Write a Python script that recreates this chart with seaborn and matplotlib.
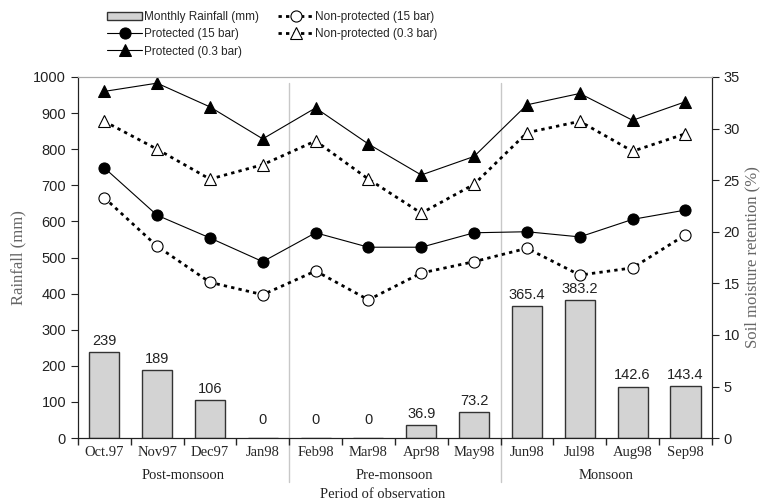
import numpy as np
import matplotlib
matplotlib.use("Agg")
import matplotlib.pyplot as plt
import matplotlib.transforms as mtransforms
import seaborn as sns

# data
months = ['Oct.97', 'Nov97', 'Dec97', 'Jan98', 'Feb98', 'Mar98',
          'Apr98', 'May98', 'Jun98', 'Jul98', 'Aug98', 'Sep98']
rainfall = [239, 189, 106, 0, 0, 0, 36.9, 73.2, 365.4, 383.2, 142.6, 143.4]
rain_labels = ['239', '189', '106', '0', '0', '0', '36.9', '73.2',
               '365.4', '383.2', '142.6', '143.4']
prot_15 = [26.2, 21.6, 19.4, 17.1, 19.9, 18.5, 18.5, 19.9, 20.0, 19.5, 21.2, 22.1]
prot_03 = [33.6, 34.4, 32.1, 29.0, 32.0, 28.5, 25.5, 27.3, 32.3, 33.4, 30.8, 32.6]
nonprot_15 = [23.3, 18.6, 15.1, 13.9, 16.2, 13.4, 16.0, 17.1, 18.4, 15.8, 16.5, 19.7]
nonprot_03 = [30.7, 28.0, 25.1, 26.5, 28.8, 25.1, 21.8, 24.6, 29.6, 30.7, 27.8, 29.5]
seasons = ['Post-monsoon', 'Pre-monsoon', 'Monsoon']
season_centers = [1.5, 5.5, 9.5]
season_breaks = [3.5, 7.5]

sns.set_style("ticks")
plt.rcParams['font.family'] = ['Liberation Sans', 'DejaVu Sans']
serif = ['Liberation Serif', 'DejaVu Serif']

fig = plt.figure(figsize=(7.63, 5.03), dpi=100)
ax = fig.add_axes([0.102, 0.129, 0.831, 0.718])

# rainfall bars
sns.barplot(x=months, y=rainfall, ax=ax, color='#d3d3d3', saturation=1,
            edgecolor='#333333', linewidth=1, width=0.57,
            label='Monthly Rainfall (mm)')
bars = ax.containers[0]
ax.bar_label(bars, labels=[l if v > 0 else '' for l, v in zip(rain_labels, rainfall)],
             padding=3, fontsize=10.5, color='#222222')
ax.bar_label(bars, labels=[l if v == 0 else '' for l, v in zip(rain_labels, rainfall)],
             padding=8, fontsize=10.5, color='#222222')

ax.set_xlim(-0.5, 11.5)
ax.set_ylim(0, 1000)
ax.set_yticks(np.arange(0, 1001, 100))
ax.tick_params(axis='y', labelsize=10.5, length=5, direction='out', colors='#222222')
ax.set_xticks(np.arange(12))
ax.set_xticklabels(months, family=serif, fontsize=10.5)
ax.tick_params(axis='x', which='major', length=0, pad=6)
ax.set_xticks(np.arange(-0.5, 12, 1), minor=True)
ax.tick_params(axis='x', which='minor', length=5, direction='out', width=1)
ax.set_ylabel('Rainfall (mm)', family=serif, fontsize=12, color='#666666', labelpad=5)
ax.set_xlabel('')

# soil moisture lines
ax2 = ax.twinx()
x = np.arange(12)
sns.lineplot(x=x, y=prot_15, ax=ax2, color='black', linewidth=0.8, marker='o',
             markersize=8, markerfacecolor='black', markeredgecolor='black',
             label='Protected (15 bar)')
sns.lineplot(x=x, y=prot_03, ax=ax2, color='black', linewidth=0.8, marker='^',
             markersize=8, markerfacecolor='black', markeredgecolor='black',
             label='Protected (0.3 bar)')
sns.lineplot(x=x, y=nonprot_15, ax=ax2, color='black', linewidth=2, linestyle=(0, (1.2, 1.5)),
             marker='o', markersize=8, markerfacecolor='white', markeredgecolor='black',
             markeredgewidth=0.8, label='Non-protected (15 bar)')
sns.lineplot(x=x, y=nonprot_03, ax=ax2, color='black', linewidth=2, linestyle=(0, (1.2, 1.5)),
             marker='^', markersize=8, markerfacecolor='white', markeredgecolor='black',
             markeredgewidth=0.8, label='Non-protected (0.3 bar)')
ax2.set_ylim(0, 35)
ax2.set_yticks(np.arange(0, 36, 5))
ax2.tick_params(axis='y', labelsize=10.5, length=5, direction='out', colors='#222222')
ax2.set_ylabel('Soil moisture retention (%)', family=serif, fontsize=12,
               color='#666666', labelpad=3)

for a in (ax, ax2):
    a.spines['top'].set_color('#aaaaaa')
    a.spines['left'].set_color('#222222')
    a.spines['right'].set_color('#222222')
    a.spines['bottom'].set_color('#222222')

# season separators and labels
trans = mtransforms.blended_transform_factory(ax.transData, ax.transAxes)
for b in season_breaks:
    ax.plot([b, b], [-0.122, 0.983], transform=trans, clip_on=False,
            color='#c8c8c8', linewidth=1, zorder=0)
for s, c in zip(seasons, season_centers):
    ax.text(c, -0.103, s, transform=trans, ha='center', va='center',
            family=serif, fontsize=10.5, color='#222222')
ax.text(0.48, -0.155, 'Period of observation', transform=ax.transAxes,
        ha='center', va='center', family=serif, fontsize=10.5, color='#222222')

# legend
h1, l1 = ax.get_legend_handles_labels()
h2, l2 = ax2.get_legend_handles_labels()
ax.get_legend().remove()
ax2.get_legend().remove()
fig.legend(h1 + h2, l1 + l2, ncol=2, loc='center', bbox_to_anchor=(0.357, 0.932),
           frameon=False, fontsize=8.5, handlelength=3.0, labelspacing=0.45,
           columnspacing=1.6, handletextpad=0.15, borderaxespad=0)

fig.savefig('out.png', dpi=100)
